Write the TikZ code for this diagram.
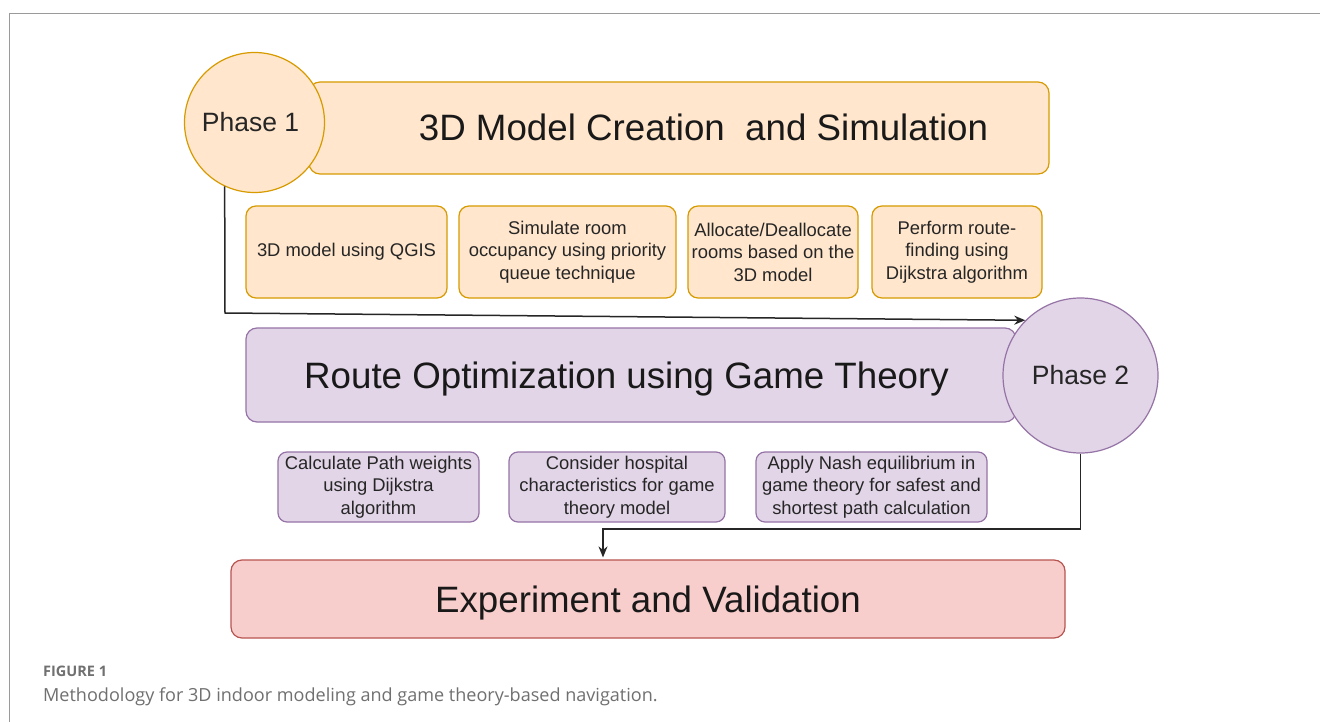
\documentclass[tikz,border=0pt]{standalone}
\usepackage{fontspec}
\setmainfont{Liberation Sans}
\newfontfamily\capfont{Open Sans}
\usetikzlibrary{arrows.meta,calc}
\definecolor{orF}{HTML}{FFE6CC}
\definecolor{orD}{HTML}{D79B00}
\definecolor{puF}{HTML}{E1D5E7}
\definecolor{puD}{HTML}{9673A6}
\definecolor{reF}{HTML}{F8CECC}
\definecolor{reD}{HTML}{B85450}
\definecolor{frameg}{HTML}{9A9A9A}
\definecolor{capg}{HTML}{707070}
\tikzset{
  box/.style={draw, rounded corners=11pt, line width=1.2pt, inner sep=0pt},
  orbox/.style={box, fill=orF, draw=orD},
  pubox/.style={box, fill=puF, draw=puD},
  rebox/.style={box, fill=reF, draw=reD},
  subtext/.style={align=center, font=\fontsize{18.4}{22.5}\selectfont, text=black!85},
  titletext/.style={anchor=base, inner sep=0pt, font=\fontsize{36.7}{40}\selectfont, text=black!90},
  phase/.style={circle, line width=1.2pt, inner sep=0pt, minimum size=#1, font=\fontsize{26.5}{30}\selectfont, text=black!85},
  conn/.style={line width=1.5pt, black!85},
  tip/.style={-{Stealth[length=11pt,width=9pt]}}
}
\begin{document}
\begin{tikzpicture}[x=1pt,y=-1pt]
\useasboundingbox (0,0) rectangle (1320,722);
\fill[white] (0,0) rectangle (1320,722);
% frame
\draw[frameg, line width=1.2pt] (9.3,722) -- (9.3,13.3) -- (1320,13.3);

% phase 1
\node[orbox, minimum width=740pt, minimum height=92pt] (b1) at (679,128) {};
\node[titletext] (t1) at (703.5,141) {3D Model Creation\ \ and Simulation};
\node[phase=140pt, fill=orF, draw=orD] (c1) at (254.5,122.5) {\hspace*{-8pt}Phase 1};

\node[orbox, rounded corners=10pt, minimum width=201pt, minimum height=92pt, subtext] (s1) at (346.5,252) {3D model using QGIS};
\node[orbox, rounded corners=10pt, minimum width=217pt, minimum height=92pt, subtext] (s2) at (567.5,252) {Simulate room\\occupancy using priority\\queue technique};
\node[orbox, rounded corners=10pt, minimum width=170pt, minimum height=92pt, subtext] (s3) at (773,252) {Allocate/Deallocate\\rooms based on the\\3D model};
\node[orbox, rounded corners=10pt, minimum width=170pt, minimum height=92pt, subtext] (s4) at (957,252) {Perform route-\\finding using\\Dijkstra algorithm};

% phase 2
\node[pubox, minimum width=770pt, minimum height=94pt] (b2) at (631,375) {};
\node[titletext] (t2) at (626.5,388) {Route Optimization using Game Theory};
\node[phase=155pt, fill=puF, draw=puD] (c2) at (1080.5,375.5) {Phase 2};

\node[pubox, rounded corners=9pt, minimum width=201pt, minimum height=70pt, subtext] (p1) at (378.5,487) {Calculate Path weights\\using Dijkstra\\algorithm};
\node[pubox, rounded corners=9pt, minimum width=216pt, minimum height=70pt, subtext] (p2) at (617,487) {Consider hospital\\characteristics for game\\theory model};
\node[pubox, rounded corners=9pt, minimum width=231pt, minimum height=70pt, subtext] (p3) at (871.5,487) {Apply Nash equilibrium in\\game theory for safest and\\shortest path calculation};

% experiment
\node[rebox, minimum width=834pt, minimum height=78pt] (b3) at (648,599) {};
\node[titletext] (t3) at (648,612) {Experiment and Validation};

% connectors
\coordinate (k0) at (225,313);
\draw[conn, tip] (c1.245) -- (k0) -- (c2.135);
\coordinate (k1) at (1080.5,529);
\coordinate (k2) at (603,529);
\draw[conn, tip, shorten >=2pt] (c2.south) -- (k1) -- (k2) -- (k2 |- b3.north);

% caption
\node[anchor=base west, inner sep=0pt, text=capg, font=\capfont\bfseries\fontsize{14.5}{17}\selectfont] (cap1) at (43,676) {FIGURE 1};
\node[anchor=base west, inner sep=0pt, text=capg, font=\capfont\fontsize{18.05}{21}\selectfont] (cap2) at (43,701) {Methodology for 3D indoor modeling and game theory-based navigation.};
\end{tikzpicture}
\end{document}
